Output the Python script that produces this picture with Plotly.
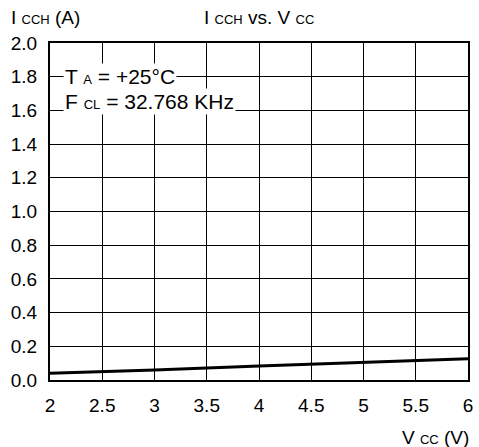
import plotly.graph_objects as go

# supply current vs supply voltage
vcc = [2.0, 3.0, 4.0, 5.0, 6.0]
icch = [0.040, 0.059, 0.083, 0.105, 0.126]

x_ticks = [2, 2.5, 3, 3.5, 4, 4.5, 5, 5.5, 6]
x_labels = ["2", "2.5", "3", "3.5", "4", "4.5", "5", "5.5", "6"]
y_ticks = [0.0, 0.2, 0.4, 0.6, 0.8, 1.0, 1.2, 1.4, 1.6, 1.8, 2.0]
y_labels = [f"{v:.1f}" for v in y_ticks]

FONT = "Liberation Sans, Arial, sans-serif"
SUB = '<span style="font-size:13px">{}</span>'

fig = go.Figure(go.Scatter(
    x=vcc, y=icch,
    mode="lines",
    line=dict(color="black", width=3),
    hoverinfo="skip",
))

axis_common = dict(
    showgrid=True, gridcolor="black", gridwidth=1,
    showline=True, linecolor="black", linewidth=2, mirror=True,
    zeroline=False, ticks="", tickfont=dict(size=19, color="black", family=FONT),
)
fig.update_xaxes(range=[2, 6], tickvals=x_ticks, ticktext=x_labels, ticklabelstandoff=7, **axis_common)
fig.update_yaxes(range=[0, 2], tickvals=y_ticks, ticktext=y_labels, ticklabelstandoff=7, **axis_common)

fig.update_layout(
    width=479, height=447,
    margin=dict(l=50, r=6, t=43, b=67),
    paper_bgcolor="white", plot_bgcolor="white",
    font=dict(family=FONT, color="black", size=19),
    showlegend=False,
    annotations=[
        dict(text="I " + SUB.format("CCH") + " vs. V " + SUB.format("CC"),
             xref="paper", yref="paper", x=0.50, y=1.0, yshift=26,
             showarrow=False, xanchor="center", yanchor="middle", font=dict(size=19)),
        dict(text="I " + SUB.format("CCH") + " (A)",
             xref="paper", yref="paper", x=-0.097, y=1.0, yshift=26,
             showarrow=False, xanchor="left", yanchor="middle", font=dict(size=19)),
        dict(text="V " + SUB.format("CC") + " (V)",
             xref="paper", yref="paper", x=1.0, y=0.0, xshift=3, yshift=-57,
             showarrow=False, xanchor="right", yanchor="middle", font=dict(size=19)),
        dict(text="T " + SUB.format("A") + " = +25°C",
             xref="x", yref="y", x=2.12, y=1.8,
             showarrow=False, xanchor="left", yanchor="middle",
             bgcolor="white", borderpad=1, font=dict(size=21)),
        dict(text="F " + SUB.format("CL") + " = 32.768 KHz",
             xref="x", yref="y", x=2.12, y=1.655,
             showarrow=False, xanchor="left", yanchor="middle",
             bgcolor="white", borderpad=1, font=dict(size=21)),
    ],
)

fig.write_html("out.html", config={"displayModeBar": False},
               post_script="document.body.style.margin='0';")
